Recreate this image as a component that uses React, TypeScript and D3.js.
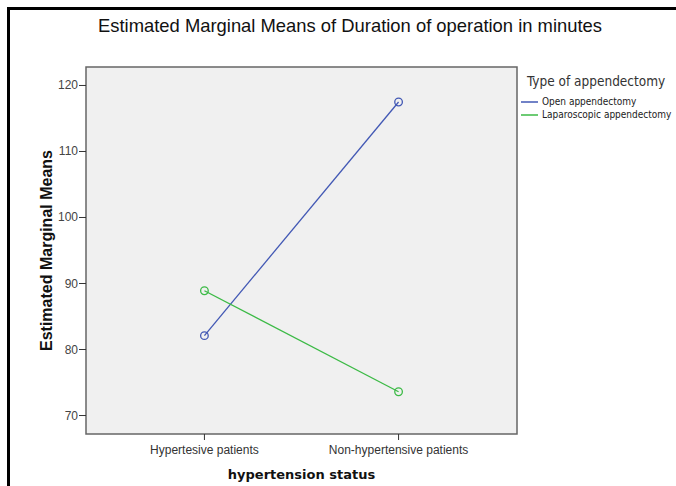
import * as d3 from "d3";
import React from "react";

const width = 676;
const height = 486;

// values
const categories = ["Hypertesive patients", "Non-hypertensive patients"];
const seriesNames = ["Open appendectomy", "Laparoscopic appendectomy"];
const openValues = [82.1, 117.5];
const lapValues = [88.9, 73.6];
const yTicks = [70, 80, 90, 100, 110, 120];
const colors = ["#4258b4", "#3cba46"];

const plot = { left: 86, top: 67, right: 517, bottom: 434 };

const x = d3
  .scalePoint<string>()
  .domain(categories)
  .range([plot.left, plot.right])
  .padding(0.61);

const y = d3
  .scaleLinear()
  .domain([67.2, 122.8])
  .range([plot.bottom, plot.top]);

const line = d3
  .line<number>()
  .x((d, i) => x(categories[i]) as number)
  .y((d) => y(d));

const narrow = "'Liberation Sans Narrow', 'DejaVu Sans Condensed', Arial, sans-serif";
const arial = "'Liberation Sans', Arial, sans-serif";

export default function App() {
  const series = [openValues, lapValues];
  return (
    <svg
      width={width}
      height={height}
      style={{ position: "absolute", left: 0, top: 0, background: "#fff" }}
    >
      {/* outer frame, top and left only */}
      <line x1={8} x2={width} y1={8.5} y2={8.5} stroke="#000" strokeWidth={3} />
      <line x1={8.5} x2={8.5} y1={7} y2={height} stroke="#000" strokeWidth={3} />

      <text
        x={350}
        y={32}
        textAnchor="middle"
        fontFamily={arial}
        fontSize={18.4}
        fill="#111"
      >
        Estimated Marginal Means of Duration of operation in minutes
      </text>

      <rect
        x={plot.left}
        y={plot.top}
        width={plot.right - plot.left}
        height={plot.bottom - plot.top}
        fill="#f0f0f0"
        stroke="#666"
        strokeWidth={1.5}
      />

      {yTicks.map((t) => (
        <g key={t}>
          <line x1={plot.left - 7} x2={plot.left} y1={y(t)} y2={y(t)} stroke="#333" />
          <text
            x={plot.left - 8}
            y={y(t) + 4}
            textAnchor="end"
            fontFamily={arial}
            fontSize={12}
            fill="#444"
          >
            {t}
          </text>
        </g>
      ))}

      {categories.map((c) => (
        <g key={c}>
          <line
            x1={x(c)}
            x2={x(c)}
            y1={plot.bottom}
            y2={plot.bottom + 6}
            stroke="#333"
          />
          <text
            x={x(c)}
            y={plot.bottom + 20}
            textAnchor="middle"
            fontFamily={arial}
            fontSize={12}
            fill="#333"
          >
            {c}
          </text>
        </g>
      ))}

      <text
        transform={`translate(52, ${(plot.top + plot.bottom) / 2}) rotate(-90)`}
        textAnchor="middle"
        fontFamily={arial}
        fontWeight="bold"
        fontSize={16}
        fill="#111"
      >
        Estimated Marginal Means
      </text>
      <text
        x={(plot.left + plot.right) / 2}
        y={479}
        textAnchor="middle"
        fontFamily="'DejaVu Sans', sans-serif"
        fontWeight="bold"
        fontSize={13}
        fill="#111"
      >
        hypertension status
      </text>

      {series.map((vals, s) => (
        <g key={s}>
          <path d={line(vals) ?? ""} fill="none" stroke={colors[s]} strokeWidth={1.3} />
          {vals.map((v, i) => (
            <circle
              key={i}
              cx={x(categories[i])}
              cy={y(v)}
              r={3.8}
              fill="none"
              stroke={colors[s]}
              strokeWidth={1.3}
            />
          ))}
        </g>
      ))}

      {/* legend */}
      <text x={527} y={86} fontFamily={narrow} fontSize={13.5} fill="#333">
        Type of appendectomy
      </text>
      {seriesNames.map((n, i) => (
        <g key={n} transform={`translate(0, ${102 + i * 13})`}>
          <line x1={521} x2={538} y1={0} y2={0} stroke={colors[i]} strokeWidth={1.5} />
          <text x={542} y={3} fontFamily={narrow} fontSize={10} fill="#222">
            {n}
          </text>
        </g>
      ))}
    </svg>
  );
}
